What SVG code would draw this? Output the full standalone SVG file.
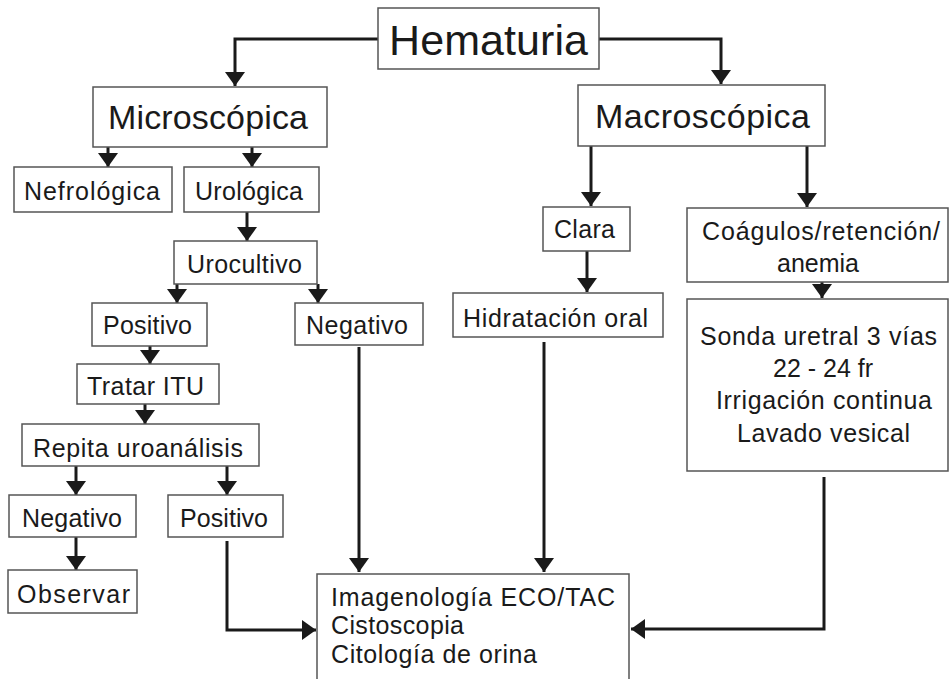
<svg xmlns="http://www.w3.org/2000/svg" width="949" height="679" viewBox="0 0 949 679">
<style>
.box{fill:#fff;stroke:#555;stroke-width:1.5}
text{font-family:"Liberation Sans",Arial,sans-serif;fill:#1a1a1a;font-size:25px}
.big{font-size:43px}
.mid{font-size:34px}
.c{text-anchor:middle}
.con path{fill:none;stroke:#1a1a1a;stroke-width:3;marker-end:url(#ah)}
</style>
<defs>
<marker id="ah" markerUnits="userSpaceOnUse" viewBox="0 0 14 20" refX="14" refY="10" markerWidth="14" markerHeight="20" orient="auto">
<path d="M0,0 L14,10 L0,20 z" fill="#1a1a1a"/>
</marker>
</defs>
<rect width="949" height="679" fill="#fff"/>
<g class="con" id="connectors">
<path d="M378,39 H235 V86"/>
<path d="M599,39 H721 V84"/>
<path d="M108,147 V167"/>
<path d="M252,147 V167"/>
<path d="M247,212 V241"/>
<path d="M177,284 V303"/>
<path d="M318,284 V303"/>
<path d="M150,346 V364"/>
<path d="M145,404 V424"/>
<path d="M76,466 V495"/>
<path d="M227,466 V495"/>
<path d="M76,537 V570"/>
<path d="M227,541 V630 H316"/>
<path d="M359,347 V572"/>
<path d="M591,146 V206"/>
<path d="M587,251 V292"/>
<path d="M544,342 V572"/>
<path d="M807,146 V207"/>
<path d="M822,282 V298"/>
<path d="M824,477 V629 H631"/>
</g>
<g id="hematuria"><rect class="box" x="378" y="8" width="221" height="61"/><text class="big" x="389" y="55" textLength="199">Hematuria</text></g>
<g id="microscopica"><rect class="box" x="93" y="87" width="234" height="60"/><text class="mid" x="108" y="129" textLength="200">Microscópica</text></g>
<g id="macroscopica"><rect class="box" x="578" y="85" width="247" height="61"/><text class="mid" x="595" y="128" textLength="215">Macroscópica</text></g>
<g id="nefrologica"><rect class="box" x="14" y="167" width="158" height="45"/><text x="24" y="200" textLength="136">Nefrológica</text></g>
<g id="urologica"><rect class="box" x="184" y="167" width="135" height="45"/><text x="195" y="200" textLength="108">Urológica</text></g>
<g id="urocultivo"><rect class="box" x="174" y="241" width="143" height="43"/><text x="187" y="273" textLength="115">Urocultivo</text></g>
<g id="positivo1"><rect class="box" x="92" y="303" width="115" height="43"/><text x="103" y="334" textLength="89">Positivo</text></g>
<g id="negativo1"><rect class="box" x="295" y="303" width="128" height="42"/><text x="306" y="334" textLength="102">Negativo</text></g>
<g id="tratar"><rect class="box" x="77" y="364" width="142" height="40"/><text x="87" y="395" textLength="117">Tratar ITU</text></g>
<g id="repita"><rect class="box" x="22" y="424" width="237" height="42"/><text x="33" y="457" textLength="210">Repita uroanálisis</text></g>
<g id="negativo2"><rect class="box" x="9" y="495" width="127" height="42"/><text x="22" y="527" textLength="100">Negativo</text></g>
<g id="positivo2"><rect class="box" x="168" y="495" width="115" height="42"/><text x="180" y="527" textLength="88">Positivo</text></g>
<g id="observar"><rect class="box" x="8" y="570" width="129" height="43"/><text x="17" y="603" textLength="113">Observar</text></g>
<g id="clara"><rect class="box" x="543" y="207" width="87" height="44"/><text x="554" y="238" textLength="61">Clara</text></g>
<g id="hidratacion"><rect class="box" x="453" y="293" width="210" height="44"/><text x="463" y="327" textLength="185">Hidratación oral</text></g>
<g id="coagulos"><rect class="box" x="687" y="208" width="261" height="74"/><text x="702" y="240" textLength="238">Coágulos/retención/</text><text class="c" x="818" y="272">anemia</text></g>
<g id="sonda"><rect class="box" x="687" y="299" width="261" height="172"/>
<text x="700" y="345" textLength="237">Sonda uretral 3 vías</text>
<text x="773" y="377" textLength="100">22 - 24 fr</text>
<text x="716" y="409" textLength="216">Irrigación continua</text>
<text x="737" y="442" textLength="173">Lavado vesical</text></g>
<g id="final"><rect class="box" x="317" y="574" width="312" height="120"/>
<text x="331" y="606" textLength="284">Imagenología ECO/TAC</text>
<text x="331" y="634" textLength="133">Cistoscopia</text>
<text x="331" y="663" textLength="206">Citología de orina</text></g>
</svg>
